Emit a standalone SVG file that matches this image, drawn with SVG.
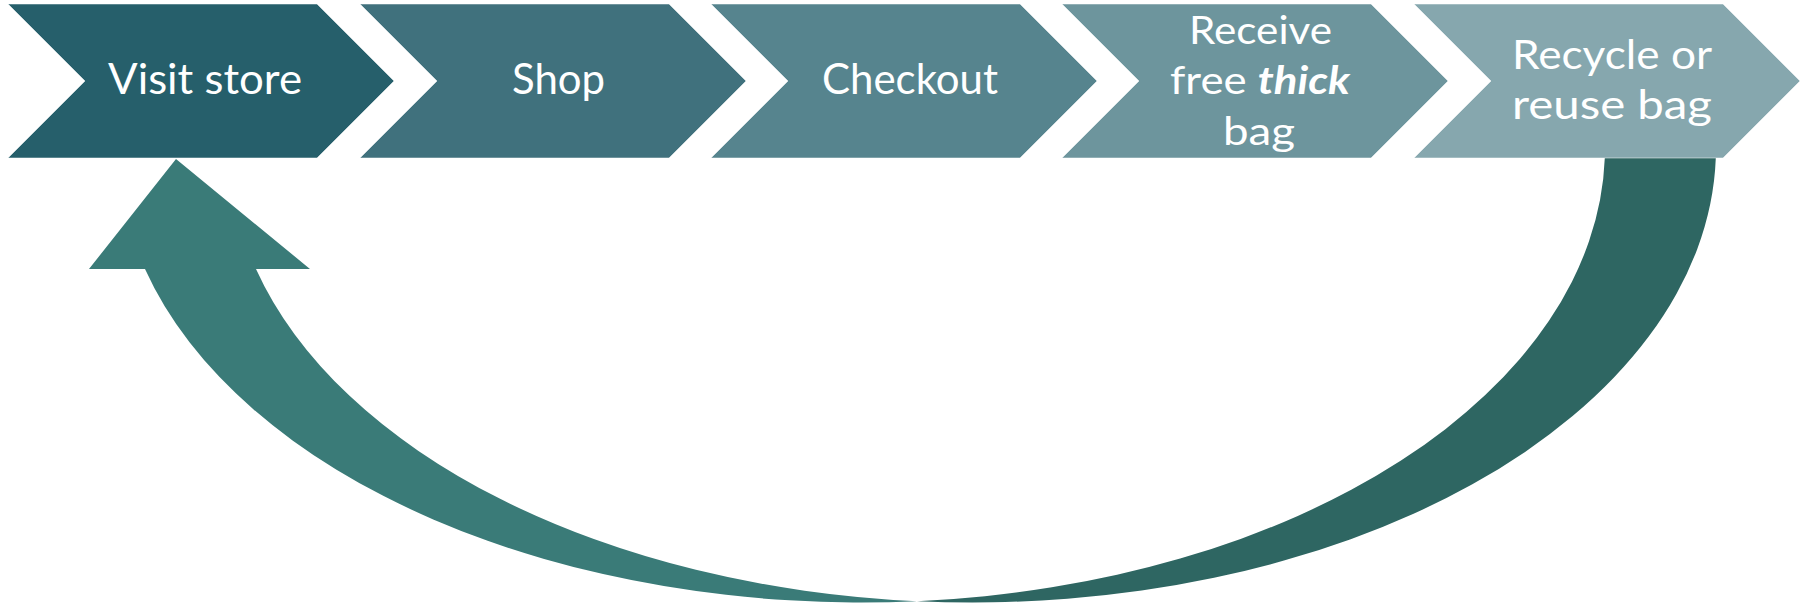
<svg xmlns="http://www.w3.org/2000/svg" width="1808" height="604" viewBox="0 0 1808 604">
<style>
.chev{stroke:#ffffff;stroke-opacity:0.5;stroke-width:1}
.lbl{font-family:Lato,"Open Sans","Liberation Sans",sans-serif;fill:#ffffff;text-anchor:middle}
.s1{font-size:42px}
.s2{font-size:39px}
.s3{font-size:41px}
</style>
<rect width="1808" height="604" fill="#ffffff"/>
<g id="connectors">
  <path id="cycle-arrow-head" d="M 145,269 A 743.5 455 0 0 0 917,601.2 A 743.5 455 0 0 1 256,269 L 310,269 L 176,159 L 89,269 Z" fill="#3A7B78"/>
  <path id="cycle-arrow-tail" d="M 1604.8,158 A 743.5 455 0 0 1 917,601.2 A 743.5 455 0 0 0 1715.8,158 Z" fill="#2E6662"/>
</g>
<g id="node-visit-store">
  <polygon class="chev" points="8,4 317,4 394,81 317,158 8,158 85,81" fill="#265F6B"/>
  <text class="lbl s1" x="205" y="94" textLength="194" lengthAdjust="spacingAndGlyphs">Visit store</text>
</g>
<g id="node-shop">
  <polygon class="chev" points="360,4 669,4 746,81 669,158 360,158 437,81" fill="#40717D"/>
  <text class="lbl s1" x="558.5" y="94" textLength="93" lengthAdjust="spacingAndGlyphs">Shop</text>
</g>
<g id="node-checkout">
  <polygon class="chev" points="711,4 1020,4 1097,81 1020,158 711,158 788,81" fill="#56848E"/>
  <text class="lbl s1" x="910" y="94" textLength="176" lengthAdjust="spacingAndGlyphs">Checkout</text>
</g>
<g id="node-receive-bag">
  <polygon class="chev" points="1062,4 1371,4 1448,81 1371,158 1062,158 1139,81" fill="#6D959D"/>
  <text class="lbl s2" x="1260.5" y="43.5" textLength="143" lengthAdjust="spacingAndGlyphs">Receive</text>
  <text class="lbl s2" x="1260" y="94" textLength="180" lengthAdjust="spacingAndGlyphs">free <tspan font-weight="bold" font-style="italic">thick</tspan></text>
  <text class="lbl s2" x="1259" y="145" textLength="72" lengthAdjust="spacingAndGlyphs">bag</text>
</g>
<g id="node-recycle-bag">
  <polygon class="chev" points="1414,4 1723,4 1800,81 1723,158 1414,158 1491,81" fill="#86A7AE"/>
  <text class="lbl s3" x="1612" y="68.5" textLength="200" lengthAdjust="spacingAndGlyphs">Recycle or</text>
  <text class="lbl s3" x="1612" y="118.5" textLength="200" lengthAdjust="spacingAndGlyphs">reuse bag</text>
</g>
</svg>
